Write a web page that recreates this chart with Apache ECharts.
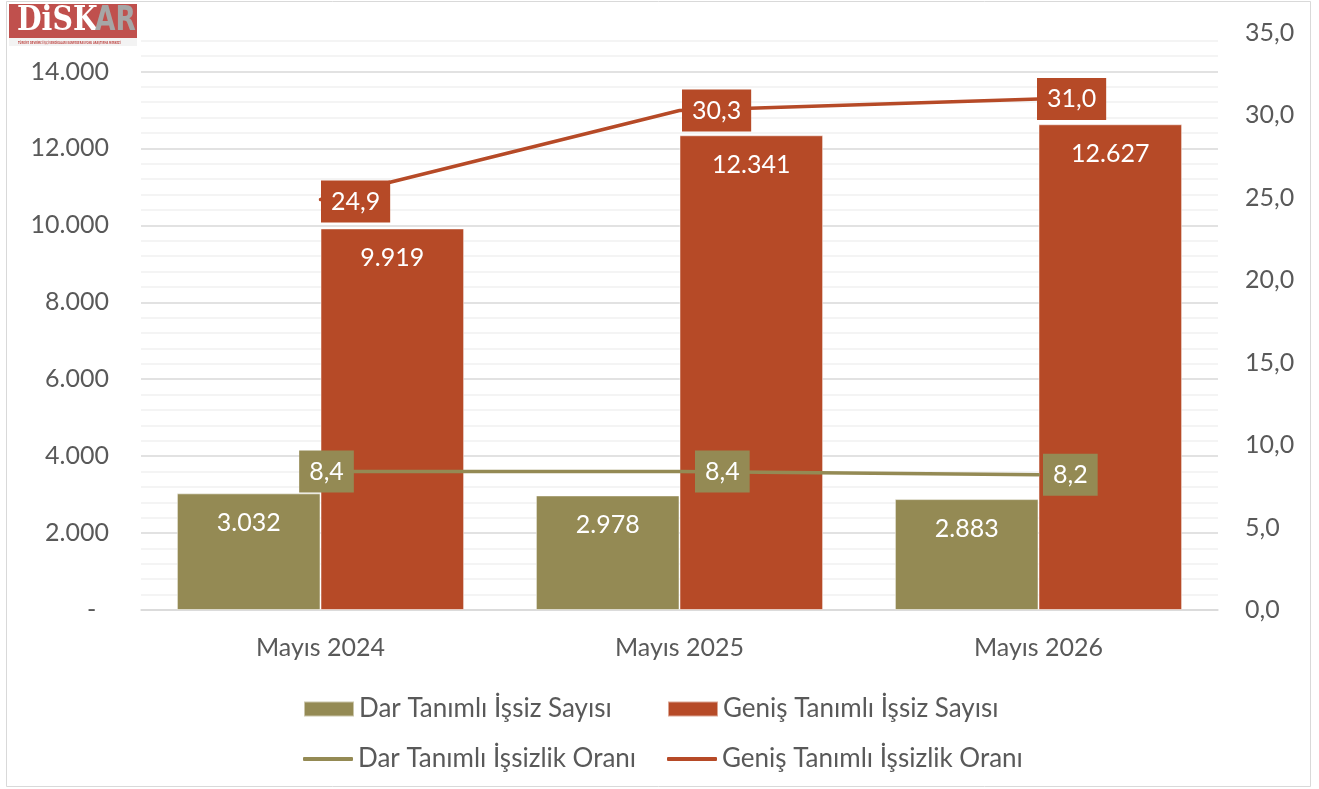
<!DOCTYPE html>
<html>
<head>
<meta charset="utf-8">
<script src="https://cdn.jsdelivr.net/npm/echarts@6/dist/echarts.min.js"></script>
<style>
  html, body { margin: 0; padding: 0; background: #ffffff; }
  #chart { width: 1319px; height: 789px; }
</style>
</head>
<body>
<div id="chart"></div>
<script>
// ---- data ----
const categories = ['Mayıs 2024', 'Mayıs 2025', 'Mayıs 2026'];
const darSayisi = [3032, 2978, 2883];
const genisSayisi = [9919, 12341, 12627];
const darOrani = [8.4, 8.4, 8.2];
const genisOrani = [24.9, 30.3, 31.0];
const seriesNames = ['Dar Tanımlı İşsiz Sayısı', 'Geniş Tanımlı İşsiz Sayısı', 'Dar Tanımlı İşsizlik Oranı', 'Geniş Tanımlı İşsizlik Oranı'];

// ---- style ----
const OLIVE = '#948A54';
const RED = '#B64A27';
const TXT = '#595959';
const FONT = 'Lato, "Open Sans", sans-serif';
const FS = 25;

function fmtThousands(v) {
  return String(Math.round(v)).replace(/\B(?=(\d{3})+(?!\d))/g, '.');
}
function fmtDec(v) {
  return Number(v).toFixed(1).replace('.', ',');
}

const LEFT_MAX = 15000, LEFT_INT = 2000, MINOR_INT = 400;
const majorCount = Math.floor(LEFT_MAX / LEFT_INT) + 2;
const majorColors = [];
for (let i = 0; i < majorCount; i++) majorColors.push(i * LEFT_INT >= LEFT_MAX ? 'rgba(0,0,0,0)' : '#d9d9d9');
const minorCount = Math.floor(LEFT_MAX / MINOR_INT) + 2;
const minorColors = [];
for (let i = 0; i < minorCount; i++) {
  const v = i * MINOR_INT;
  minorColors.push((v % LEFT_INT === 0 || v >= LEFT_MAX) ? 'rgba(0,0,0,0)' : '#f0f0f0');
}

const darLabelCfg = [
  { position: 'inside', offset: [6, 0] },
  { position: 'right', distance: 15 },
  { position: 'right', distance: 4 }
];
const genisLabelCfg = [
  { position: 'right', distance: 0, offset: [0, 2] },
  { position: 'right', distance: 2 },
  { position: 'right', distance: -2 }
];

const lineLabelBase = {
  show: true,
  color: '#ffffff',
  fontSize: FS,
  fontFamily: FONT,
  padding: [9, 10, 8, 10],
  formatter: p => fmtDec(p.value)
};

function legendItem(name, left, top, isLine) {
  return {
    data: [name],
    left: left,
    top: top,
    orient: 'horizontal',
    itemWidth: 50,
    itemHeight: isLine ? 4 : 15,
    itemGap: 0,
    icon: isLine ? 'roundRect' : 'rect',
    textStyle: { color: TXT, fontSize: 26, fontFamily: FONT },
    selectedMode: false
  };
}

const option = {
  backgroundColor: '#ffffff',
  animation: false,
  textStyle: { fontFamily: FONT },
  grid: { left: 141, right: 101, top: 33, bottom: 179, containLabel: false },
  legend: [
    legendItem(seriesNames[0], 298, 691, false),
    legendItem(seriesNames[1], 662, 691, false),
    legendItem(seriesNames[2], 298, 741, true),
    legendItem(seriesNames[3], 662, 741, true)
  ],
  xAxis: {
    type: 'category',
    data: categories,
    axisLine: { show: true, lineStyle: { color: '#d9d9d9', width: 1.5 } },
    axisTick: { show: false },
    axisLabel: { color: TXT, fontSize: FS, fontFamily: FONT, margin: 25 },
    splitLine: { show: false }
  },
  yAxis: [
    {
      type: 'value',
      position: 'left',
      min: 0,
      max: LEFT_MAX,
      interval: LEFT_INT,
      axisLine: { show: false },
      axisTick: { show: false },
      axisLabel: {
        color: TXT, fontSize: FS, fontFamily: FONT, margin: 32,
        formatter: v => v >= LEFT_MAX ? '' : (v === 0 ? '-  ' : fmtThousands(v))
      },
      splitLine: { show: true, lineStyle: { color: majorColors, width: 1.5 } }
    },
    {
      type: 'value',
      position: 'right',
      min: 0,
      max: 35,
      interval: 5,
      axisLine: { show: false },
      axisTick: { show: false },
      axisLabel: {
        color: TXT, fontSize: FS, fontFamily: FONT, margin: 27,
        formatter: v => fmtDec(v)
      },
      splitLine: { show: false }
    },
    {
      type: 'value',
      position: 'left',
      min: 0,
      max: LEFT_MAX,
      interval: MINOR_INT,
      axisLine: { show: false },
      axisTick: { show: false },
      axisLabel: { show: false },
      splitLine: { show: true, lineStyle: { color: minorColors, width: 1.5 } }
    }
  ],
  series: [
    {
      name: seriesNames[0],
      type: 'bar',
      yAxisIndex: 0,
      data: darSayisi,
      barGap: '0%',
      barCategoryGap: '20%',
      itemStyle: { color: OLIVE, borderColor: 'rgba(255,255,255,0.5)', borderWidth: 1 },
      label: {
        show: true, position: 'insideTop', distance: 17,
        color: '#ffffff', fontSize: FS, fontFamily: FONT,
        formatter: p => fmtThousands(p.value)
      },
      z: 2
    },
    {
      name: seriesNames[1],
      type: 'bar',
      yAxisIndex: 0,
      data: genisSayisi,
      barGap: '0%',
      barCategoryGap: '20%',
      itemStyle: { color: RED, borderColor: 'rgba(255,255,255,0.5)', borderWidth: 1 },
      label: {
        show: true, position: 'insideTop', distance: 17,
        color: '#ffffff', fontSize: FS, fontFamily: FONT,
        formatter: p => fmtThousands(p.value)
      },
      z: 2
    },
    {
      name: seriesNames[2],
      type: 'line',
      yAxisIndex: 1,
      symbol: 'circle',
      symbolSize: 1,
      showSymbol: true,
      itemStyle: { color: OLIVE },
      lineStyle: { color: OLIVE, width: 3.5, cap: 'round' },
      data: darOrani.map((v, i) => ({
        value: v,
        label: Object.assign({}, lineLabelBase, { backgroundColor: OLIVE }, darLabelCfg[i])
      })),
      z: 5
    },
    {
      name: seriesNames[3],
      type: 'line',
      yAxisIndex: 1,
      symbol: 'circle',
      symbolSize: 1,
      showSymbol: true,
      itemStyle: { color: RED },
      lineStyle: { color: RED, width: 3.5, cap: 'round' },
      data: genisOrani.map((v, i) => ({
        value: v,
        label: Object.assign({}, lineLabelBase, { backgroundColor: RED }, genisLabelCfg[i])
      })),
      z: 5
    }
  ],
  graphic: [
    {
      type: 'rect',
      shape: { x: 6.5, y: 1.5, width: 1304, height: 785 },
      style: { fill: 'none', stroke: '#d9d9d9', lineWidth: 1 },
      silent: true,
      z: -1
    },
    {
      type: 'group',
      left: 9,
      top: 4,
      children: [
        { type: 'rect', shape: { x: 0, y: 0, width: 128, height: 34 }, style: { fill: '#C0504D' } },
        { type: 'rect', shape: { x: 0, y: 34, width: 128, height: 8 }, style: { fill: '#f3f3f3' } },
        {
          type: 'text', x: 8, y: 1, scaleX: 0.86,
          style: { text: 'DiSK', fill: '#ffffff', font: 'bold 33px "DejaVu Serif", serif' }
        },
        {
          type: 'text', x: 86, y: 1, scaleX: 0.8,
          style: { text: 'AR', fill: '#a6a6a6', font: 'bold 33px "DejaVu Sans", sans-serif' }
        },
        {
          type: 'text', x: 9, y: 36.5, scaleX: 0.64,
          style: { text: 'TÜRKİYE DEVRİMCİ İŞÇİ SENDİKALARI KONFEDERASYONU ARAŞTIRMA MERKEZİ', fill: '#C0504D', font: 'bold 4px "DejaVu Sans Condensed", sans-serif' }
        }
      ]
    }
  ]
};

const chart = echarts.init(document.getElementById('chart'), null, { renderer: 'canvas' });
chart.setOption(option);
</script>
</body>
</html>
